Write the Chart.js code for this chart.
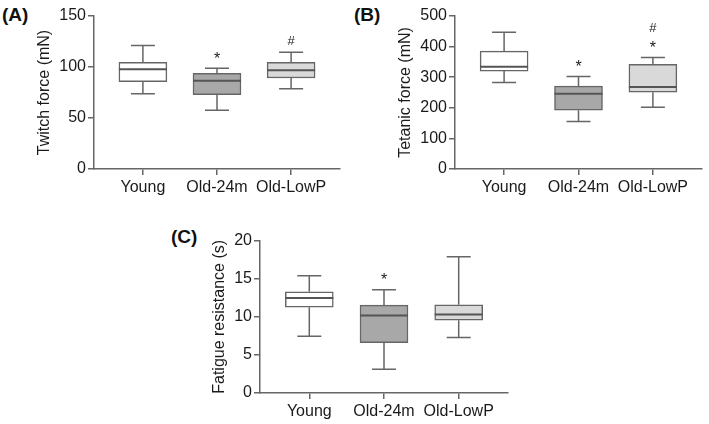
<!DOCTYPE html>
<html>
<head>
<meta charset="utf-8">
<script src="https://cdn.jsdelivr.net/npm/chart.js@4/dist/chart.umd.min.js"></script>
<style>
  html, body { margin: 0; padding: 0; background: #ffffff; }
  body { width: 709px; height: 424px; position: relative; overflow: hidden; font-family: "Liberation Sans", Arial, sans-serif; }
  .panel { position: absolute; }
  .plabel { position: absolute; font-weight: bold; font-size: 19px; line-height: 19px; color: #111; font-family: "Liberation Sans", Arial, sans-serif; }
</style>
</head>
<body>
<div class="plabel" style="left:2px; top:5px;">(A)</div>
<div class="plabel" style="left:354px; top:5px;">(B)</div>
<div class="plabel" style="left:171px; top:227px;">(C)</div>
<div class="panel" style="left:0px; top:0px; width:345px; height:200px;"><canvas id="chartA"></canvas></div>
<div class="panel" style="left:360px; top:0px; width:345px; height:200px;"><canvas id="chartB"></canvas></div>
<div class="panel" style="left:160px; top:225px; width:355px; height:199px;"><canvas id="chartC"></canvas></div>
<script>
// ---------- DATA ----------
const categories = ['Young', 'Old-24m', 'Old-LowP'];
const boxColors = ['#ffffff', '#a8a8a8', '#d9d9d9'];

// (A) Twitch force (mN)
const twitchMin    = [73.8, 57.5, 78.7];
const twitchQ1     = [85.6, 72.9, 89.2];
const twitchMedian = [97.7, 86.6, 96.7];
const twitchQ3     = [104.6, 93.8, 104.6];
const twitchMax    = [121.0, 98.7, 114.4];
const twitchMarks  = ['', '*', '#'];
const twitchTicks  = [0, 50, 100, 150];

// (B) Tetanic force (mN)
const tetanicMin    = [283, 155, 202];
const tetanicQ1     = [320, 192, 251];
const tetanicMedian = [334, 246, 268];
const tetanicQ3     = [385, 271, 342];
const tetanicMax    = [447, 302, 364];
const tetanicMarks  = ['', '*', '*#'];
const tetanicTicks  = [0, 100, 200, 300, 400, 500];

// (C) Fatigue resistance (s)
const fatigueMin    = [7.46, 3.12, 7.28];
const fatigueQ1     = [11.27, 6.62, 9.56];
const fatigueMedian = [12.46, 10.17, 10.3];
const fatigueQ3     = [13.3, 11.54, 11.58];
const fatigueMax    = [15.4, 13.55, 17.9];
const fatigueMarks  = ['', '*', ''];
const fatigueTicks  = [0, 5, 10, 15, 20];

// ---------- DRAWING ----------
const FONT = '"Liberation Sans", Arial, sans-serif';
const LINE = '#666666';
const TEXT = '#1a1a1a';

const boxPlugin = {
  id: 'boxExtras',
  afterDatasetsDraw(chart) {
    const s = chart.options.plugins.boxExtras;
    const xs = chart.scales.x, ys = chart.scales.y;
    const meta = chart.getDatasetMeta(0);
    const ctx = chart.ctx;
    ctx.save();
    for (let i = 0; i < categories.length; i++) {
      const x = xs.getPixelForValue(i);
      const half = meta.data[i].width / 2;
      const capHalf = half / 2;
      const yMin = ys.getPixelForValue(s.min[i]);
      const yQ1 = ys.getPixelForValue(s.q1[i]);
      const yMed = ys.getPixelForValue(s.median[i]);
      const yQ3 = ys.getPixelForValue(s.q3[i]);
      const yMax = ys.getPixelForValue(s.max[i]);
      ctx.strokeStyle = LINE;
      ctx.lineWidth = 1.5;
      ctx.beginPath();
      ctx.moveTo(x, yQ3); ctx.lineTo(x, yMax);
      ctx.moveTo(x - capHalf, yMax); ctx.lineTo(x + capHalf, yMax);
      ctx.moveTo(x, yQ1); ctx.lineTo(x, yMin);
      ctx.moveTo(x - capHalf, yMin); ctx.lineTo(x + capHalf, yMin);
      ctx.stroke();
      ctx.strokeStyle = '#555555';
      ctx.lineWidth = 2;
      ctx.beginPath();
      ctx.moveTo(x - half, yMed); ctx.lineTo(x + half, yMed);
      ctx.stroke();
      // significance marks
      const marks = s.marks[i];
      let center = yMax - 13.5;
      ctx.fillStyle = TEXT;
      ctx.textAlign = 'center';
      ctx.textBaseline = 'alphabetic';
      for (const c of marks) {
        const base = center + (c === '*' ? 9 : 5.7);
        ctx.font = (c === '*' ? '16px ' : '13px ') + FONT;
        ctx.fillText(c, x, base);
        center -= 18;
      }
    }
    ctx.restore();
  }
};

function makePanel(id, title, ticks, min, q1, median, q3, max, marks, geom) {
  const boxes = categories.map((c, i) => ({ x: i, y: [q1[i], q3[i]] }));
  new Chart(document.getElementById(id), {
    type: 'bar',
    data: {
      datasets: [{
        data: boxes,
        backgroundColor: boxColors,
        borderColor: LINE,
        borderWidth: 1.5,
        borderSkipped: false,
        barThickness: 48
      }]
    },
    options: {
      responsive: true,
      maintainAspectRatio: false,
      animation: false,
      layout: { padding: { left: 0, top: geom.top, right: geom.right, bottom: 0 } },
      plugins: {
        legend: { display: false },
        tooltip: { enabled: false },
        boxExtras: { min, q1, median, q3, max, marks }
      },
      scales: {
        x: {
          type: 'linear',
          offset: false,
          min: -0.66,
          max: 2.66,
          afterBuildTicks: (sc) => { sc.ticks = categories.map((c, i) => ({ value: i })); },
          afterFit: (sc) => { sc.height = 31; },
          ticks: {
            autoSkip: false, maxRotation: 0, minRotation: 0,
            padding: 3,
            align: 'center',
            color: TEXT,
            font: { family: FONT, size: 16 },
            callback: (v) => categories[v] !== undefined ? categories[v] : ''
          },
          grid: { offset: false, drawOnChartArea: false, drawTicks: true, tickLength: 6, color: LINE, lineWidth: 1.5 },
          border: { display: true, color: LINE, width: 1.5 }
        },
        y: {
          type: 'linear',
          min: ticks[0],
          max: ticks[ticks.length - 1],
          afterBuildTicks: (sc) => { sc.ticks = ticks.map(v => ({ value: v })); },
          afterFit: (sc) => { sc.width = geom.yWidth; },
          ticks: {
            padding: 2,
            color: TEXT,
            font: { family: FONT, size: 16 }
          },
          grid: { drawOnChartArea: false, drawTicks: true, tickLength: 6, color: LINE, lineWidth: 1.5 },
          border: { display: true, color: LINE, width: 1.5 },
          title: {
            display: true,
            text: title,
            color: TEXT,
            font: { family: FONT, size: 16 },
            padding: { top: geom.titlePad, bottom: 0 }
          }
        }
      }
    },
    plugins: [boxPlugin]
  });
}

makePanel('chartA', 'Twitch force (mN)', twitchTicks, twitchMin, twitchQ1, twitchMedian, twitchQ3, twitchMax, twitchMarks,
  { top: 16, right: 5, yWidth: 94, titlePad: 35.4 });
makePanel('chartB', 'Tetanic force (mN)', tetanicTicks, tetanicMin, tetanicQ1, tetanicMedian, tetanicQ3, tetanicMax, tetanicMarks,
  { top: 16, right: 3, yWidth: 95, titlePad: 36.4 });
makePanel('chartC', 'Fatigue resistance (s)', fatigueTicks, fatigueMin, fatigueQ1, fatigueMedian, fatigueQ3, fatigueMax, fatigueMarks,
  { top: 15.7, right: 7, yWidth: 100, titlePad: 50.4 });
</script>
</body>
</html>
